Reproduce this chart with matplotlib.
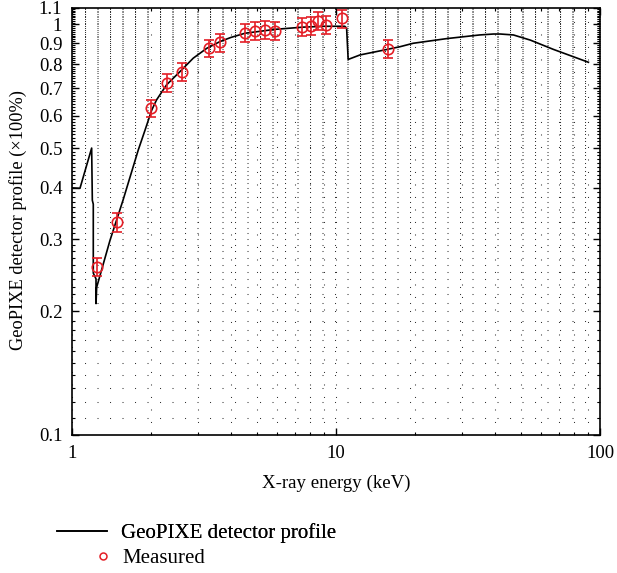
import numpy as np
import matplotlib
matplotlib.use('Agg')
import matplotlib.pyplot as plt
from matplotlib.ticker import FixedLocator, NullFormatter, FixedFormatter
from matplotlib.lines import Line2D

# ---- data ----
curve_energy = [1.0, 1.072, 1.187, 1.194, 1.204, 1.204, 1.233, 1.233, 1.24, 1.393,
                1.56, 1.783, 1.891, 2.003, 2.09, 2.282, 2.566, 2.88, 3.24, 3.64,
                4.0, 4.52, 5.87, 7.45, 9.0, 10.8, 10.97, 11.12, 12.33, 15.55,
                17.5, 19.6, 26.3, 35.0, 39.5, 41.9, 47.0, 54.5, 66.5, 90.4]
curve_profile = [0.40, 0.399, 0.500, 0.373, 0.365, 0.248, 0.240, 0.209, 0.229, 0.298,
                 0.373, 0.495, 0.553, 0.618, 0.655, 0.713, 0.768, 0.828, 0.875, 0.909,
                 0.930, 0.952, 0.973, 0.985, 0.990, 0.990, 0.980, 0.822, 0.843, 0.869,
                 0.883, 0.900, 0.924, 0.943, 0.948, 0.948, 0.943, 0.916, 0.870, 0.809]

meas_energy = [1.24, 1.484, 2.00, 2.30, 2.61, 3.30, 3.65, 4.52, 4.93, 5.38,
               5.87, 7.45, 8.02, 8.57, 9.17, 10.56, 15.78]
meas_profile = [0.257, 0.330, 0.625, 0.722, 0.767, 0.875, 0.904, 0.952, 0.964, 0.970,
                0.964, 0.988, 0.992, 1.022, 0.997, 1.035, 0.872]
meas_err = [0.013, 0.017, 0.031, 0.036, 0.038, 0.044, 0.045, 0.048, 0.048, 0.049,
            0.048, 0.049, 0.050, 0.051, 0.050, 0.052, 0.044]

x_tick_values = [1, 10, 100]
x_tick_labels = ['1', '10', '100']
y_tick_values = [0.1, 0.2, 0.3, 0.4, 0.5, 0.6, 0.7, 0.8, 0.9, 1.0, 1.1]
y_tick_labels = ['0.1', '0.2', '0.3', '0.4', '0.5', '0.6', '0.7', '0.8', '0.9', '1', '1.1']

RED = '#e41e26'

plt.rcParams['font.family'] = ['Liberation Serif', 'DejaVu Serif']

fig = plt.figure(figsize=(6.17, 5.73), dpi=100)
ax = fig.add_axes([72 / 617, 1 - 435 / 573, 528 / 617, 427.5 / 573])
ax.set_xscale('log')
ax.set_yscale('log')
ax.set_xlim(1, 100)
ax.set_ylim(0.1, 1.1)

# ticks
ax.xaxis.set_major_locator(FixedLocator(x_tick_values))
ax.xaxis.set_major_formatter(FixedFormatter(x_tick_labels))
x_minor = [m * d for d in (1, 10) for m in range(2, 10)]
ax.xaxis.set_minor_locator(FixedLocator(x_minor))
ax.xaxis.set_minor_formatter(NullFormatter())

ax.yaxis.set_major_locator(FixedLocator(y_tick_values))
ax.yaxis.set_major_formatter(FixedFormatter(y_tick_labels))
y_minor = [round(0.10 + 0.01 * i, 2) for i in range(101)]
ax.yaxis.set_minor_locator(FixedLocator(y_minor))
ax.yaxis.set_minor_formatter(NullFormatter())

ax.tick_params(which='both', direction='in', top=True, right=True, labelsize=13.5)
ax.tick_params(which='major', length=5, width=1.0, pad=7)
ax.tick_params(which='minor', length=2.5, width=0.8)
for s in ax.spines.values():
    s.set_linewidth(1.2)

# dotted grid
grid_kw = dict(linestyle=(0, (1, 11)), linewidth=0.75, color='0.2')
ax.grid(True, which='both', axis='x', **grid_kw)
ax.grid(True, which='both', axis='y', **grid_kw)
ax.set_axisbelow(True)

# data
ax.plot(curve_energy, curve_profile, color='black', lw=1.2, zorder=3)
ax.errorbar(meas_energy, meas_profile, yerr=meas_err, fmt='o', mfc='none',
            mec=RED, ecolor=RED, ms=7.5, mew=1.2, elinewidth=1.2,
            capsize=3.8, capthick=1.2, zorder=4)

ax.set_xlabel('X-ray energy (keV)', fontsize=13.6)
ax.set_ylabel('GeoPIXE detector profile (×100%)', fontsize=13.2)
ax.xaxis.set_label_coords(0.5, -0.093)
ax.yaxis.set_label_coords(-0.085, 0.503)

# legend (two stacked entries below the plot)
h1 = Line2D([], [], color='black', lw=1.2)
h2 = Line2D([], [], color=RED, marker='o', mfc='none', mew=1.1, ms=5, ls='none')
leg1 = fig.legend([h1], ['GeoPIXE detector profile'], loc='center left',
                  bbox_to_anchor=(57 / 617, 1 - 533 / 573), frameon=False,
                  fontsize=15, handlelength=2.4, handletextpad=0.65,
                  borderpad=0, borderaxespad=0)
leg2 = fig.legend([h2], ['Measured'], loc='center left',
                  bbox_to_anchor=(93 / 617, 1 - 558 / 573), frameon=False,
                  fontsize=15, handlelength=1.0, handletextpad=0.4,
                  borderpad=0, borderaxespad=0)
fig.add_artist(leg1)

fig.savefig('out.png', dpi=100)
